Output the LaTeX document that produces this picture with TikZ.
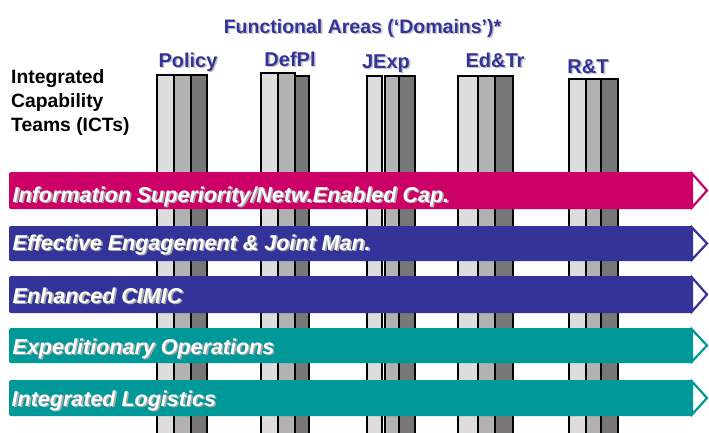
\documentclass[tikz,border=0pt]{standalone}
\usepackage{fontspec}
\setmainfont{Liberation Sans}
\definecolor{pinkband}{HTML}{CC0066}
\definecolor{blueband}{HTML}{333399}
\definecolor{tealband}{HTML}{009999}
\definecolor{barlight}{HTML}{DDDDDD}
\definecolor{barmid}{HTML}{B2B2B2}
\definecolor{bardark}{HTML}{777777}
\definecolor{shadowgrey}{HTML}{A8A8A8}
\definecolor{shadowlight}{HTML}{C4C4C4}
\newcommand{\shtext}[2]{\rlap{\kern1.6pt\raisebox{-1.6pt}{\textcolor{#1}{#2}}}#2}
\tikzset{
  barbox/.style={draw=black, line width=1.3pt},
  bandtext/.style={anchor=base west, inner sep=0pt, text=white, font=\fontsize{21.5}{24}\selectfont\bfseries\itshape},
  domlabel/.style={anchor=base, inner sep=0pt, text=blueband, font=\fontsize{20}{24}\selectfont\bfseries},
  ictlabel/.style={anchor=base west, inner sep=0pt, text=black, font=\fontsize{19.3}{22}\selectfont\bfseries},
}
\newcommand{\bandarrow}[3]{%
  \fill[#1, rounded corners=1.5pt] (9,#2) rectangle (692,#3);
  \draw[#1, line width=2.2pt, fill=white, line join=miter] (692,#2+1.5) -- (707,{(#2+#3)/2}) -- (692,#3-1.5) -- cycle;
}
\begin{document}
\begin{tikzpicture}[x=1pt, y=-1pt]
\useasboundingbox (0,0) rectangle (709,432);
\clip (0,0) rectangle (709,432);
% vertical bars (domains)
\foreach \a/\b/\c/\d/\ta/\tb/\tc in {157/174/191/207/75/75/75, 261/278/295/309/73/73/76, 458/478/495/513/76/76/76, 569/586/601/618/79/79/79}{
  \draw[barbox, fill=barlight] (\a,\ta) rectangle (\b,440);
  \draw[barbox, fill=barmid] (\b,\tb) rectangle (\c,440);
  \draw[barbox, fill=bardark] (\c,\tc) rectangle (\d,440);
}
\draw[barbox, fill=barlight] (367,76) rectangle (382,440);
\draw[barbox, fill=barmid] (385,76) rectangle (399,440);
\draw[barbox, fill=bardark] (399,76) rectangle (415,440);
% bands
\bandarrow{pinkband}{172}{209}
\bandarrow{blueband}{226}{261}
\bandarrow{blueband}{276}{313}
\bandarrow{tealband}{328}{363}
\bandarrow{tealband}{380}{416}
% band texts
\node[bandtext] (b1) at (12.5,202) {\shtext{shadowgrey}{Information Superiority/Netw.Enabled Cap.}};
\node[bandtext] (b2) at (12.5,250) {\shtext{shadowgrey}{Effective Engagement \& Joint Man.}};
\node[bandtext] (b3) at (12.5,303) {\shtext{shadowgrey}{Enhanced CIMIC}};
\node[bandtext] (b4) at (12.5,354) {\shtext{shadowgrey}{Expeditionary Operations}};
\node[bandtext] (b5) at (11.5,406) {\shtext{shadowgrey}{Integrated Logistics}};
% title
\node[domlabel, font=\fontsize{19.5}{24}\selectfont\bfseries] (title) at (362.5,33) {\shtext{shadowlight}{Functional Areas (‘Domains’)*}};
% domain labels
\node[domlabel] (policy) at (188,67) {\shtext{shadowlight}{Policy}};
\node[domlabel] (defpl) at (290,66) {\shtext{shadowlight}{DefPl}};
\node[domlabel] (jexp) at (386,68) {\shtext{shadowlight}{JExp}};
\node[domlabel] (edtr) at (495,67) {\shtext{shadowlight}{Ed\&Tr}};
\node[domlabel] (rt) at (588,73) {\shtext{shadowlight}{R\&T}};
% ICT label
\node[ictlabel] (ict1) at (11,83) {Integrated};
\node[ictlabel] (ict2) at (11,107) {Capability};
\node[ictlabel] (ict3) at (11,131) {Teams (ICTs)};
\end{tikzpicture}
\end{document}
